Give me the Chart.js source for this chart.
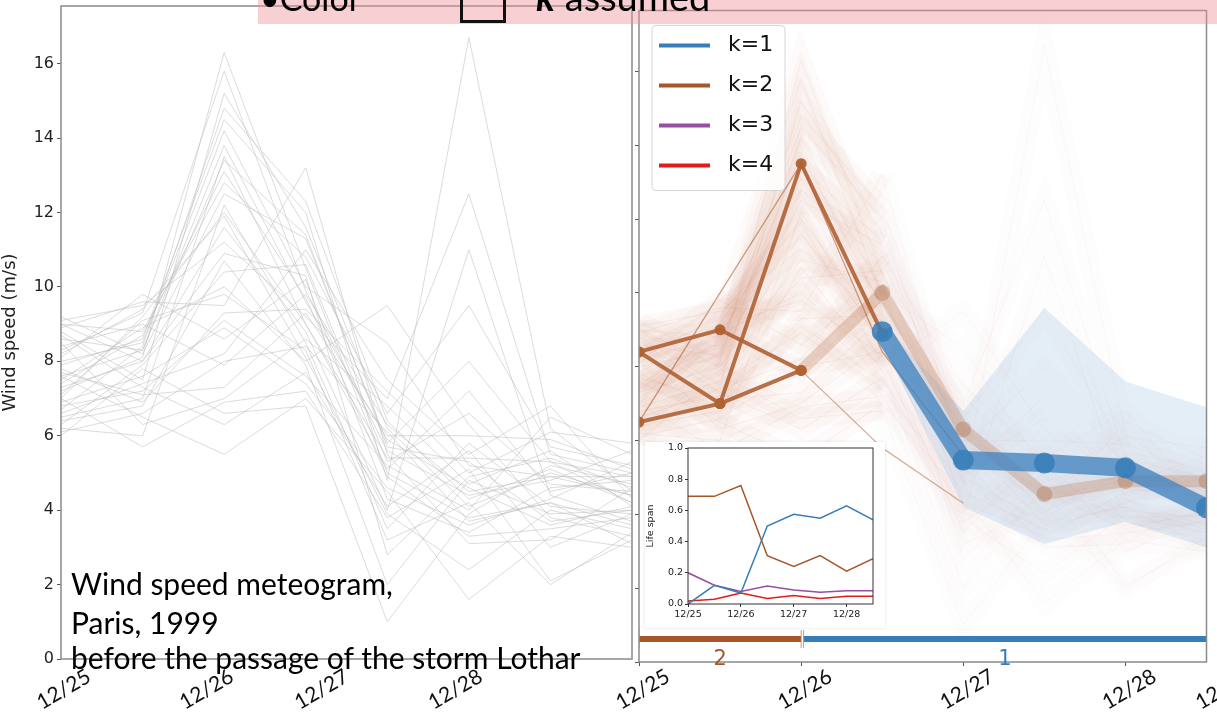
<!DOCTYPE html>
<html><head><meta charset="utf-8">
<script src="https://cdn.jsdelivr.net/npm/chart.js@4.4.1/dist/chart.umd.min.js"></script>
<style>
html,body{margin:0;padding:0;background:#fff;width:1217px;height:715px;overflow:hidden;position:relative;font-family:"DejaVu Sans",sans-serif}
canvas{position:absolute}
#cL{left:0;top:0}
#cR{left:596px;top:0}
#inset{left:645px;top:442px;background:#fff;box-shadow:0 0 3px rgba(0,0,0,0.12)}
#banner{position:absolute;left:258px;top:0;width:959px;height:24px;background:rgba(238,140,148,0.42);overflow:hidden}
#banner .t{position:absolute;left:2px;top:-27px;font-family:Lato,"Open Sans",sans-serif;font-size:38px;color:#000;white-space:nowrap;line-height:46px}
#banner .c{font-size:34px}
#banner .box{display:inline-block;width:40px;height:40px;border:3px solid #111;vertical-align:-12px;margin:0 30px 0 99px}
.note{position:absolute;left:71px;font-family:Lato,"Open Sans",sans-serif;font-size:30px;line-height:36px;color:#000;white-space:nowrap}
</style></head>
<body>
<canvas id="cL" width="638" height="715"></canvas>
<canvas id="cR" width="621" height="715"></canvas>
<canvas id="inset" width="240" height="186"></canvas>
<div id="banner"><div class="t"><span class="c">•Color</span><span class="box"></span><b><i>k</i></b> assumed</div></div>
<div class="note" style="top:565px">Wind speed meteogram,</div>
<div class="note" style="top:604px">Paris, 1999</div>
<div class="note" style="top:639px">before the passage of the storm Lothar</div>
<script>
// ---------------- data ----------------
const steps = [0, 1, 2, 3, 4, 5, 6, 7];            // 12-hour steps from 12/25 00h
const dateLabels = ['12/25', '12/26', '12/27', '12/28', '12/29'];
const leftTickAt = [0, 1.75, 3.16, 4.8];            // where the left panel's date labels sit
const rightTickAt = [0, 2, 4, 6, 7.15];
const yTicks = [0, 2, 4, 6, 8, 10, 12, 14, 16];

const members = [
  [8.4, 9.0, 7.9, 9.8, 6.3, 4.5, 4.9, 4.9],
  [6.5, 7.0, 13.5, 9.0, 5.4, 5.4, 5.3, 4.2],
  [7.2, 8.1, 16.3, 10.5, 5.0, 3.8, 4.2, 3.6],
  [8.8, 7.5, 15.2, 11.6, 6.2, 4.1, 5.0, 4.4],
  [7.9, 8.6, 14.5, 12.0, 4.8, 16.7, 6.2, 4.5],
  [6.2, 6.0, 12.2, 8.5, 3.5, 5.8, 4.1, 3.9],
  [9.1, 9.5, 11.2, 9.2, 7.0, 12.5, 5.5, 5.0],
  [7.5, 8.9, 10.0, 8.0, 9.5, 6.3, 3.8, 3.3],
  [6.8, 7.2, 9.1, 7.6, 5.2, 4.0, 6.5, 5.5],
  [8.1, 9.8, 8.6, 10.2, 4.3, 3.4, 4.6, 4.8],
  [7.0, 5.7, 6.9, 7.2, 3.8, 5.1, 2.1, 3.2],
  [8.6, 8.3, 13.8, 9.6, 5.9, 4.6, 3.6, 4.1],
  [6.0, 7.8, 6.6, 6.8, 1.0, 3.9, 5.2, 4.7],
  [9.0, 8.8, 12.8, 10.8, 6.6, 9.5, 5.7, 5.2],
  [7.6, 6.5, 5.5, 7.0, 4.5, 1.6, 3.3, 3.0],
  [8.3, 9.3, 15.8, 9.9, 5.6, 4.4, 4.8, 5.6],
  [6.6, 7.4, 8.2, 11.0, 7.5, 5.5, 6.8, 4.3],
  [7.3, 8.0, 11.6, 8.8, 4.0, 11.0, 4.4, 3.7],
  [8.9, 9.6, 9.5, 13.2, 5.5, 3.1, 3.2, 4.6],
  [7.7, 7.1, 7.3, 9.3, 6.0, 6.0, 5.9, 5.1],
  [6.4, 6.8, 10.7, 7.9, 2.0, 4.8, 3.9, 4.0],
  [8.0, 8.5, 14.2, 10.0, 8.5, 5.2, 4.9, 4.4],
  [7.1, 9.1, 9.8, 8.3, 3.2, 4.2, 2.0, 3.4],
  [9.2, 8.2, 12.5, 11.3, 5.8, 8.0, 5.3, 4.9],
  [6.9, 7.6, 8.9, 7.4, 4.6, 3.6, 4.3, 5.3],
  [8.5, 6.3, 7.0, 8.6, 6.8, 4.7, 5.6, 4.1],
  [7.4, 8.7, 13.1, 9.7, 4.9, 3.3, 3.5, 3.8],
  [6.3, 7.9, 10.4, 10.6, 5.3, 6.6, 4.7, 4.5],
  [8.2, 9.4, 11.9, 8.1, 3.9, 2.4, 4.0, 3.5],
  [7.8, 6.9, 9.3, 9.4, 7.2, 5.0, 6.1, 5.8],
  [6.7, 8.4, 14.8, 12.3, 6.4, 4.3, 5.1, 4.2],
  [8.7, 7.3, 6.3, 7.7, 4.1, 5.6, 3.0, 3.9],
  [7.0, 9.2, 12.0, 9.0, 5.1, 7.2, 4.5, 5.0],
  [9.0, 8.0, 10.9, 10.3, 2.8, 4.9, 5.4, 4.6],
  [6.1, 6.6, 8.0, 8.4, 6.1, 3.7, 4.2, 3.1],
  [7.6, 8.3, 13.4, 11.4, 5.7, 5.3, 3.7, 4.0]
];

// cluster k=2 representative paths (right panel)
const k2PathA = [8.4, 9.0, 7.9, null, null, null, null, null];
const k2PathB = [6.5, 7.0, 7.9, null, null, null, null, null];
const k2PathC = [8.4, 7.0, 13.5, 8.9, null, null, null, null];
const k2Thin1 = [6.5, 10.0, 13.5, 8.4, 5.6, null, null, null];
const k2Thin2 = [null, null, 7.9, 5.8, 4.3, null, null, null];
const k2Faded = [null, null, 7.9, 10.0, 6.3, 4.55, 4.9, 4.9];
// cluster k=1 path and spread
const k1Path = [null, null, null, 8.95, 5.47, 5.39, 5.26, 4.18];
const k1Upper = [null, null, null, 9.2, 6.8, 9.6, 7.6, 6.9];
const k1Lower = [null, null, null, 8.6, 4.2, 3.2, 3.8, 3.1];

// life span inset
const clusterNames = ['k=1', 'k=2', 'k=3', 'k=4'];
const lifeK1 = [0.0, 0.12, 0.07, 0.50, 0.575, 0.55, 0.63, 0.54];
const lifeK2 = [0.69, 0.69, 0.76, 0.31, 0.24, 0.31, 0.21, 0.29];
const lifeK3 = [0.20, 0.12, 0.08, 0.115, 0.09, 0.075, 0.085, 0.085];
const lifeK4 = [0.02, 0.03, 0.07, 0.035, 0.055, 0.035, 0.05, 0.05];
const insetTickAt = [0, 2, 4, 6];

// cluster timeline strip
const segK = [2, 1];
const segStart = [0, 2.03];
const segEnd = [2, 7];

// ---------------- styles ----------------
const colK = ['#377eb8', '#a65628', '#984ea3', '#e41a1c'];
Chart.defaults.font.family = "'DejaVu Sans', sans-serif";
Chart.defaults.animation = false;
Chart.defaults.responsive = false;

const pts = arr => arr.map((v, i) => ({x: steps[i], y: v}));

const framePlugin = {
  id: 'frame',
  afterDatasetsDraw(chart, args, o) {
    const {ctx, chartArea: a} = chart;
    ctx.save();
    ctx.strokeStyle = o.color || '#808080';
    ctx.lineWidth = o.width || 1.5;
    ctx.strokeRect(a.left, a.top, a.right - a.left, a.bottom - a.top);
    ctx.restore();
  }
};

function fixedTicks(values) {
  return (scale) => { scale.ticks = values.map(v => ({value: v})); };
}
function fitTo(prop, size) {
  return (s) => {
    s[prop] = size;
    s.paddingLeft = 0; s.paddingRight = 0; s.paddingTop = 0; s.paddingBottom = 0;
  };
}

// ---------------- left chart ----------------
new Chart(document.getElementById('cL'), {
  type: 'line',
  data: {
    datasets: members.map(m => ({
      data: pts(m), borderColor: 'rgba(185,185,185,0.5)', borderWidth: 1,
      pointRadius: 0, tension: 0
    }))
  },
  options: {
    layout: {padding: {top: 6, right: 6, left: 0, bottom: 0}},
    plugins: {legend: {display: false}, tooltip: {enabled: false}, frame: {color: '#8a8a8a', width: 1.5}},
    scales: {
      x: {
        type: 'linear', min: 0, max: 7,
        afterBuildTicks: fixedTicks(leftTickAt),
        afterFit: fitTo('height', 56),
        grid: {display: false},
        border: {display: false},
        ticks: {
          callback: (v, i) => dateLabels[i], autoSkip: false,
          minRotation: 30, maxRotation: 30, labelOffset: 28, padding: -3,
          font: {family: 'Lato', size: 21}, color: '#111'
        }
      },
      y: {
        min: 0, max: 17.55,
        afterBuildTicks: fixedTicks(yTicks),
        afterFit: fitTo('width', 61),
        grid: {drawOnChartArea: false, drawTicks: true, tickLength: 4, color: '#555'},
        border: {display: false},
        ticks: {font: {size: 16}, color: '#222', padding: 3},
        title: {display: true, text: 'Wind speed (m/s)', font: {size: 18}, color: '#222', padding: {top: 0, bottom: 2}}
      }
    }
  },
  plugins: [framePlugin]
});

// ---------------- right chart ----------------
const rightDatasets = [];
members.forEach(m => rightDatasets.push({
  data: pts(m), borderWidth: 20, pointRadius: 0, order: 100,
  borderColor: 'rgba(205,140,100,0.04)',
  segment: {borderColor: c => c.p0DataIndex >= 3 ? 'rgba(205,140,100,0.016)' : 'rgba(205,140,100,0.038)'}
}));
members.forEach(m => rightDatasets.push({
  data: pts(m), borderWidth: 1, pointRadius: 0, order: 95,
  borderColor: 'rgba(190,125,85,0.09)',
  segment: {borderColor: c => c.p0DataIndex >= 3 ? 'rgba(190,125,85,0.05)' : 'rgba(190,125,85,0.09)'}
}));
rightDatasets.push({data: pts(k1Upper), borderWidth: 0, pointRadius: 0, fill: {target: rightDatasets.length + 1}, backgroundColor: 'rgba(120,170,215,0.2)', order: 90});
rightDatasets.push({data: pts(k1Lower), borderWidth: 0, pointRadius: 0, order: 90});
rightDatasets.push({data: pts(k2Faded), borderColor: 'rgba(190,130,95,0.33)', borderWidth: 12, pointRadius: [0,0,0,8,8,8,8,8], pointBackgroundColor: 'rgba(175,115,80,0.40)', pointBorderWidth: 0, order: 40});
rightDatasets.push({data: pts(k2Thin1), borderColor: 'rgba(166,86,40,0.55)', borderWidth: 1.3, pointRadius: 0, order: 30});
rightDatasets.push({data: pts(k2Thin2), borderColor: 'rgba(166,86,40,0.45)', borderWidth: 1.3, pointRadius: 0, order: 30});
[k2PathA, k2PathB, k2PathC].forEach(p => rightDatasets.push({
  data: pts(p), borderColor: 'rgba(176,98,52,0.9)', borderWidth: 4,
  pointRadius: 5.5, pointBackgroundColor: 'rgba(176,98,52,0.95)', pointBorderWidth: 0, order: 20
}));
rightDatasets.push({data: pts(k1Path), borderColor: 'rgba(65,132,192,0.78)', borderWidth: 18,
  pointRadius: 10.5, pointBackgroundColor: 'rgba(55,126,184,0.85)', pointBorderWidth: 0, order: 10});
// timeline strip
const stripLevel = 0.62;
segK.forEach((k, i) => rightDatasets.push({
  data: [{x: segStart[i], y: stripLevel}, {x: segEnd[i], y: stripLevel}],
  borderColor: colK[k - 1], borderWidth: 6,
  pointStyle: 'line', rotation: 90, pointRadius: 9, pointBorderWidth: 1,
  pointBorderColor: k === 2 ? 'rgba(205,140,100,0.9)' : 'rgba(110,165,215,0.9)', order: 2
}));

const legendPlugin = {
  id: 'kLegend',
  afterDraw(chart) {
    const {ctx, chartArea: a} = chart;
    const x0 = a.left + 13, y0 = a.top + 15, w = 133, h = 165;
    ctx.save();
    ctx.fillStyle = 'rgba(255,255,255,0.85)';
    ctx.strokeStyle = 'rgba(210,210,210,0.9)';
    ctx.lineWidth = 1;
    ctx.beginPath();
    ctx.roundRect(x0, y0, w, h, 4);
    ctx.fill(); ctx.stroke();
    ctx.font = "22px 'DejaVu Sans'";
    ctx.textBaseline = 'middle';
    clusterNames.forEach((n, i) => {
      const y = y0 + 20 + i * 40;
      ctx.strokeStyle = colK[i]; ctx.lineWidth = 4;
      ctx.beginPath(); ctx.moveTo(x0 + 7, y); ctx.lineTo(x0 + 58, y); ctx.stroke();
      ctx.fillStyle = '#111';
      ctx.fillText(n, x0 + 76, y);
    });
    ctx.restore();
  }
};
const stripLabelPlugin = {
  id: 'stripLabels',
  afterDatasetsDraw(chart) {
    const {ctx, scales: {x, y}} = chart;
    ctx.save();
    ctx.font = "21px 'DejaVu Sans'";
    ctx.textAlign = 'center'; ctx.textBaseline = 'middle';
    segK.forEach((k, i) => {
      ctx.fillStyle = colK[k - 1];
      ctx.fillText(String(k), x.getPixelForValue((segStart[i] + segEnd[i]) / 2), y.getPixelForValue(stripLevel) + 20);
    });
    ctx.restore();
  }
};

new Chart(document.getElementById('cR'), {
  type: 'line',
  data: {datasets: rightDatasets},
  options: {
    layout: {padding: {top: 7, right: 4, left: 0, bottom: 0}},
    plugins: {legend: {display: false}, tooltip: {enabled: false}, frame: {color: '#8a8a8a', width: 1.5}},
    scales: {
      x: {
        type: 'linear', min: 0, max: 7,
        afterBuildTicks: fixedTicks(rightTickAt),
        afterFit: fitTo('height', 53),
        grid: {drawOnChartArea: false, drawTicks: true, tickLength: 4, color: '#555'},
        border: {display: false},
        ticks: {
          callback: (v, i) => dateLabels[i], autoSkip: false,
          minRotation: 30, maxRotation: 30, labelOffset: 29, padding: -2,
          font: {family: 'Lato', size: 21}, color: '#111'
        }
      },
      y: {
        min: 0, max: 17.65,
        afterBuildTicks: fixedTicks(yTicks),
        afterFit: fitTo('width', 43),
        grid: {drawOnChartArea: false, drawTicks: true, tickLength: 4, color: '#555'},
        border: {display: false},
        ticks: {color: 'rgba(0,0,0,0)'}
      }
    }
  },
  plugins: [framePlugin, stripLabelPlugin, legendPlugin]
});

// ---------------- inset ----------------
new Chart(document.getElementById('inset'), {
  type: 'line',
  data: {
    datasets: [lifeK1, lifeK2, lifeK3, lifeK4].map((d, i) => ({
      label: clusterNames[i], data: pts(d), borderColor: colK[i], borderWidth: 1.5, pointRadius: 0
    }))
  },
  options: {
    layout: {padding: {top: 6, right: 12, left: 0, bottom: 0}},
    plugins: {legend: {display: false}, tooltip: {enabled: false}, frame: {color: '#333', width: 1}},
    scales: {
      x: {
        type: 'linear', min: 0, max: 7,
        afterBuildTicks: fixedTicks(insetTickAt),
        afterFit: fitTo('height', 24),
        grid: {drawOnChartArea: false, drawTicks: true, tickLength: 3, color: '#333'},
        border: {display: false},
        ticks: {callback: (v, i) => dateLabels[i], maxRotation: 0, font: {size: 9.5}, color: '#222', padding: 2}
      },
      y: {
        min: 0, max: 1,
        afterBuildTicks: fixedTicks([0, 0.2, 0.4, 0.6, 0.8, 1.0]),
        afterFit: fitTo('width', 43),
        grid: {drawOnChartArea: false, drawTicks: true, tickLength: 3, color: '#333'},
        border: {display: false},
        ticks: {callback: v => v.toFixed(1), font: {size: 9.5}, color: '#222', padding: 2},
        title: {display: true, text: 'Life span', font: {size: 9.5}, color: '#222', padding: {top: 0, bottom: 2}}
      }
    }
  },
  plugins: [framePlugin]
});
</script>
</body></html>
